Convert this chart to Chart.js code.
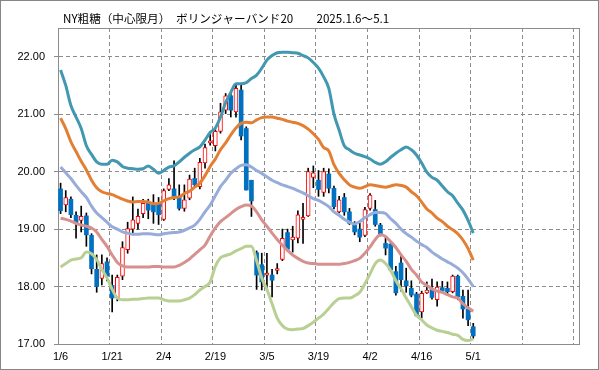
<!DOCTYPE html>
<html>
<head>
<meta charset="utf-8">
<script src="https://cdn.jsdelivr.net/npm/chart.js@4.4.1/dist/chart.umd.min.js"></script>
<style>
  body { margin: 0; background: #fff; }
  #wrap { width: 599px; height: 370px; }
</style>
</head>
<body>
<div id="wrap"><canvas id="bbChart" width="599" height="370"></canvas></div>
<script>
  const chartTitle = 'NY粗糖（中心限月）　ボリンジャーバンド20　　2025.1.6～5.1';

  // trading days 1/6 - 5/1
  const dates = [
    '1/6','1/7','1/8','1/9','1/10','1/13','1/14','1/15','1/16','1/17',
    '1/21','1/22','1/23','1/24','1/27','1/28','1/29','1/30','1/31','2/3',
    '2/4','2/5','2/6','2/7','2/10','2/11','2/12','2/13','2/14','2/18',
    '2/19','2/20','2/21','2/24','2/25','2/26','2/27','2/28','3/3','3/4',
    '3/5','3/6','3/7','3/10','3/11','3/12','3/13','3/14','3/17','3/18',
    '3/19','3/20','3/21','3/24','3/25','3/26','3/27','3/28','3/31','4/1',
    '4/2','4/3','4/4','4/7','4/8','4/9','4/10','4/11','4/14','4/15',
    '4/16','4/17','4/21','4/22','4/23','4/24','4/25','4/28','4/29','4/30',
    '5/1'
  ];
  const emptySlots = 20;

  const open = [
    19.70, 19.42, 19.52, 19.24, 19.15, 19.23, 18.89, 18.30, 18.14, 18.43,
    18.02, 17.80, 18.18, 18.64, 19.00, 19.10, 19.27, 19.46, 19.42, 19.45,
    19.17, 19.69, 19.70, 19.56, 19.36, 19.54, 19.88, 19.74, 20.15, 20.50,
    20.45, 20.70, 21.07, 21.32, 21.04, 21.42, 20.75, 19.85, 18.59, 18.38,
    18.20, 18.20, 18.28, 18.47, 18.94, 18.81, 18.84, 19.17, 19.23, 19.90,
    19.85, 19.64, 19.96, 19.71, 19.30, 19.55, 19.30, 19.07, 19.00, 18.89,
    19.36, 19.34, 19.07, 18.75, 18.74, 18.26, 18.41, 18.10, 17.97, 17.87,
    17.56, 17.89, 17.95, 17.77, 17.98, 17.97, 17.91, 18.18, 17.83, 17.61,
    17.30
  ];
  const high = [
    19.80, 19.67, 19.56, 19.30, 19.40, 19.28, 18.92, 18.55, 18.55, 18.50,
    18.20, 18.20, 18.78, 19.12, 19.56, 19.35, 19.52, 19.52, 19.60, 19.55,
    19.70, 19.88, 20.19, 19.77, 19.77, 19.94, 20.06, 20.23, 20.48, 20.70,
    20.77, 21.19, 21.36, 21.40, 21.50, 21.50, 20.78, 19.85, 18.62, 18.58,
    18.58, 18.30, 18.40, 19.00, 19.00, 19.05, 19.32, 19.45, 20.06, 20.10,
    20.02, 20.06, 20.05, 19.75, 19.57, 19.62, 19.36, 19.13, 19.10, 19.38,
    19.62, 19.50, 19.10, 18.87, 18.78, 18.35, 18.54, 18.32, 18.10, 17.90,
    17.92, 18.08, 18.13, 18.08, 18.09, 18.08, 18.20, 18.20, 17.94, 17.94,
    17.36
  ];
  const low = [
    19.27, 19.30, 19.20, 18.84, 18.95, 18.70, 18.22, 17.90, 18.03, 18.10,
    17.56, 17.75, 18.12, 18.58, 18.90, 19.00, 19.20, 19.18, 19.10, 19.08,
    19.15, 19.67, 19.51, 19.33, 19.31, 19.51, 19.74, 19.70, 20.06, 20.46,
    20.36, 20.67, 21.01, 20.95, 20.95, 20.55, 19.68, 19.22, 17.95, 17.94,
    17.95, 17.82, 18.22, 18.45, 18.62, 18.60, 18.76, 18.75, 19.22, 19.72,
    19.57, 19.57, 19.63, 19.35, 19.28, 19.24, 19.08, 18.90, 18.78, 18.87,
    19.33, 19.05, 18.88, 18.55, 18.26, 17.85, 17.92, 17.90, 17.82, 17.48,
    17.45, 17.88, 17.78, 17.66, 17.92, 17.85, 17.89, 17.77, 17.45, 17.32,
    17.10
  ];
  const close = [
    19.32, 19.55, 19.25, 19.10, 19.22, 18.90, 18.31, 18.00, 18.40, 18.18,
    17.80, 18.16, 18.68, 19.01, 19.16, 19.22, 19.45, 19.33, 19.30, 19.25,
    19.67, 19.77, 19.56, 19.36, 19.51, 19.87, 19.77, 20.16, 20.42, 20.52,
    20.70, 21.04, 21.32, 21.07, 21.45, 20.62, 19.68, 19.49, 18.20, 18.08,
    18.22, 18.11, 18.30, 18.84, 18.65, 18.86, 19.25, 19.19, 20.00, 19.98,
    19.69, 20.00, 19.71, 19.39, 19.51, 19.30, 19.10, 18.95, 18.86, 19.34,
    19.59, 19.08, 18.91, 18.67, 18.29, 17.89, 18.12, 18.01, 17.85, 17.50,
    17.88, 17.94, 17.81, 17.99, 17.93, 17.91, 18.18, 17.82, 17.61, 17.42,
    17.14
  ];

  const upper2 = [
    21.77, 21.50, 21.15, 20.95, 20.75, 20.45, 20.30, 20.17, 20.13, 20.13,
    20.20, 20.17, 20.09, 20.06, 20.05, 20.04, 20.05, 20.10, 20.04, 19.97,
    20.02, 20.08, 20.10, 20.17, 20.25, 20.32, 20.38, 20.43, 20.55, 20.68,
    20.76, 20.95, 21.20, 21.38, 21.53, 21.53, 21.55, 21.62, 21.68, 21.80,
    21.94, 22.02, 22.07, 22.08, 22.08, 22.07, 22.06, 22.02, 21.98, 21.90,
    21.80, 21.65, 21.45, 21.00, 20.72, 20.45, 20.38, 20.32, 20.29, 20.26,
    20.22, 20.16, 20.13, 20.17, 20.25, 20.32, 20.38, 20.43, 20.38, 20.29,
    20.15, 19.99, 19.90, 19.85, 19.75, 19.65, 19.58, 19.45, 19.33, 19.15,
    18.93
  ];
  const upper1 = [
    20.93, 20.75, 20.52, 20.35, 20.18, 20.03, 19.85, 19.72, 19.65, 19.62,
    19.60, 19.56, 19.52, 19.49, 19.47, 19.48, 19.48, 19.47, 19.44, 19.45,
    19.49, 19.53, 19.55, 19.56, 19.62, 19.66, 19.73, 19.80, 19.93, 20.09,
    20.22, 20.38, 20.50, 20.64, 20.76, 20.84, 20.86, 20.85, 20.90, 20.94,
    20.95, 20.95, 20.93, 20.91, 20.88, 20.86, 20.84, 20.80, 20.74, 20.66,
    20.56, 20.42, 20.36, 20.12, 19.97, 19.86, 19.77, 19.73, 19.71, 19.74,
    19.77, 19.76, 19.74, 19.73, 19.75, 19.77, 19.76, 19.73, 19.65, 19.58,
    19.47, 19.35, 19.28, 19.19, 19.13, 19.05, 18.99, 18.92, 18.81, 18.66,
    18.46
  ];
  const middle = [
    20.08, 19.98, 19.88, 19.76, 19.65, 19.55, 19.40, 19.28, 19.20, 19.12,
    19.04, 19.00, 18.95, 18.93, 18.91, 18.91, 18.92, 18.92, 18.91, 18.90,
    18.92, 18.93, 18.94, 18.95, 18.98, 19.02, 19.07, 19.17, 19.30, 19.42,
    19.58, 19.74, 19.85, 19.97, 20.05, 20.11, 20.12, 20.08, 20.02, 19.97,
    19.91, 19.85, 19.81, 19.77, 19.74, 19.71, 19.67, 19.63, 19.58, 19.53,
    19.50, 19.45, 19.39, 19.30, 19.24, 19.17, 19.12, 19.09, 19.13, 19.20,
    19.25, 19.29, 19.29, 19.27, 19.18, 19.10, 19.00, 18.92, 18.86, 18.79,
    18.73, 18.68, 18.60, 18.54, 18.48, 18.43, 18.38, 18.32, 18.24, 18.13,
    18.00
  ];
  const lower1 = [
    19.19, 19.17, 19.14, 19.10, 19.07, 19.05, 19.02, 18.95, 18.82, 18.70,
    18.55, 18.42, 18.36, 18.34, 18.34, 18.34, 18.34, 18.34, 18.35, 18.35,
    18.34, 18.34, 18.34, 18.37, 18.42, 18.48, 18.56, 18.64, 18.72, 18.88,
    19.02, 19.13, 19.20, 19.27, 19.34, 19.39, 19.42, 19.40, 19.30, 19.16,
    19.05, 18.93, 18.82, 18.72, 18.63, 18.55, 18.49, 18.44, 18.41, 18.40,
    18.39, 18.39, 18.39, 18.39, 18.39, 18.40, 18.42, 18.45, 18.49, 18.58,
    18.69, 18.82, 18.90, 18.87, 18.78, 18.68, 18.55, 18.44, 18.30, 18.20,
    18.08, 18.02, 17.96, 17.92, 17.90, 17.86, 17.82, 17.80, 17.70, 17.63,
    17.57
  ];
  const lower2 = [
    18.34, 18.40, 18.46, 18.48, 18.50, 18.60, 18.57, 18.47, 18.30, 18.15,
    17.95, 17.80, 17.77, 17.77, 17.78, 17.78, 17.79, 17.80, 17.80, 17.80,
    17.77, 17.75, 17.75, 17.75, 17.77, 17.80, 17.86, 17.94, 18.00, 18.08,
    18.35, 18.50, 18.54, 18.57, 18.62, 18.66, 18.70, 18.70, 18.45, 18.15,
    17.95, 17.70, 17.45, 17.32, 17.26, 17.25, 17.26, 17.27, 17.32, 17.38,
    17.45, 17.52, 17.62, 17.72, 17.79, 17.80, 17.80, 17.84, 17.90, 18.05,
    18.22, 18.40, 18.46, 18.40, 18.28, 18.10, 17.96, 17.80, 17.65, 17.50,
    17.42, 17.33, 17.28, 17.24, 17.22, 17.20, 17.17, 17.15, 17.08, 17.06,
    17.09
  ];

  const yTicks = [17, 18, 19, 20, 21, 22];

  const labels = dates.concat(Array(emptySlots).fill(''));
  const isUp = i => close[i] >= open[i];
  const gridGray = '#8c8c8c';

  function band(data, color) {
    return {
      type: 'line',
      data: data,
      borderColor: color,
      borderWidth: 3,
      pointRadius: 0,
      cubicInterpolationMode: 'monotone',
      order: 0
    };
  }

  // title + frames
  const framePlugin = {
    id: 'frame',
    beforeDatasetsDraw(chart) {
      const { ctx, chartArea: a } = chart;
      ctx.save();
      ctx.strokeStyle = gridGray;
      ctx.lineWidth = 1;
      ctx.beginPath();
      ctx.moveTo(a.left, Math.round(a.top) + 0.5);
      ctx.lineTo(a.right, Math.round(a.top) + 0.5);
      ctx.moveTo(Math.round(a.right) + 0.5, a.top);
      ctx.lineTo(Math.round(a.right) + 0.5, a.bottom);
      ctx.stroke();
      ctx.restore();
    },
    afterDraw(chart) {
      const { ctx, width, height } = chart;
      ctx.save();
      ctx.strokeStyle = '#868686';
      ctx.lineWidth = 1;
      ctx.strokeRect(0.5, 0.5, width - 1, height - 1);
      ctx.fillStyle = '#000';
      ctx.font = '11.6px "Noto Sans CJK JP"';
      ctx.textBaseline = 'middle';
      ctx.fillText(chartTitle, 63, 19);
      ctx.restore();
    }
  };

  const ctx1 = document.getElementById('bbChart').getContext('2d');
  const bbChart = new Chart(ctx1, {
    type: 'bar',
    data: {
      labels: labels,
      datasets: [
        band(upper2, '#4298b0'),
        band(upper1, '#e27f33'),
        band(middle, '#97acd8'),
        band(lower1, '#d6918e'),
        band(lower2, '#b9cf93'),
        {
          label: 'body',
          data: open.map((o, i) => [o, close[i]]),
          backgroundColor: ctx => isUp(ctx.dataIndex) ? '#ffffff' : '#0070c0',
          borderColor: '#ff0000',
          borderWidth: ctx => isUp(ctx.dataIndex) ? 1 : 0,
          borderSkipped: false,
          barThickness: 4,
          minBarLength: 2,
          grouped: false,
          order: 1
        },
        {
          label: 'wick',
          data: low.map((l, i) => [l, high[i]]),
          backgroundColor: '#000000',
          barThickness: 1,
          grouped: false,
          order: 2
        }
      ]
    },
    plugins: [framePlugin],
    options: {
      responsive: false,
      animation: false,
      devicePixelRatio: 1,
      layout: { padding: { top: 28, right: 20, bottom: 0, left: 0 } },
      plugins: {
        legend: { display: false },
        tooltip: { enabled: false }
      },
      scales: {
        x: {
          type: 'category',
          offset: true,
          grid: {
            offset: true,
            drawTicks: false,
            color: c => (c.index % 10 === 0 && c.index > 0) ? gridGray : 'rgba(0,0,0,0)'
          },
          border: { color: gridGray, dash: [4, 3] },
          ticks: {
            autoSkip: false,
            maxRotation: 0,
            padding: 6,
            color: '#000',
            font: { family: 'Liberation Sans', size: 11 },
            callback: (v, i) => (i % 10 === 0 && i < dates.length) ? dates[i] : ''
          },
          afterFit: s => { s.height = 26; }
        },
        y: {
          min: 17,
          max: 22.5,
          afterBuildTicks: s => { s.ticks = yTicks.map(v => ({ value: v })); },
          grid: {
            color: c => c.tick && c.tick.value === 17 ? 'rgba(0,0,0,0)' : gridGray,
            drawTicks: true,
            tickLength: 4,
            tickColor: gridGray
          },
          border: { color: gridGray, dash: [4, 3] },
          ticks: {
            padding: 9,
            color: '#000',
            font: { family: 'Liberation Sans', size: 11 },
            callback: v => Number(v).toFixed(2)
          },
          afterFit: s => { s.width = 58; }
        }
      }
    }
  });
</script>
</body>
</html>
